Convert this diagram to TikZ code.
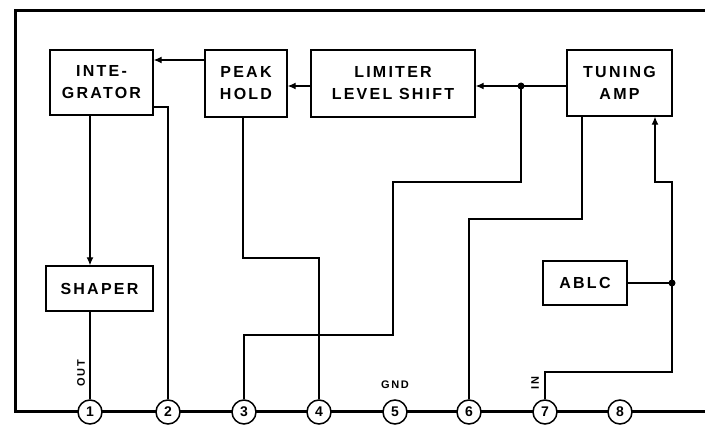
\documentclass[tikz,border=0pt]{standalone}
\usepackage{fontspec}
\setmainfont{Liberation Sans}
\usetikzlibrary{arrows.meta}
\newfontfamily\lab[LetterSpace=14]{Liberation Sans Bold}
\begin{document}
\begin{tikzpicture}[x=1pt,y=-1pt,
  blk/.style={draw,line width=1.4pt,inner sep=0pt,align=center,font=\lab\fontsize{16}{22}\selectfont},
  conn/.style={line width=1.2pt},
  arr/.style={conn,-{Latex[length=8pt,width=7pt]}},
  frame/.style={line width=3pt},
  pin/.style={draw,circle,line width=1.5pt,fill=white,minimum size=24pt,inner sep=0pt,font=\bfseries\fontsize{14}{14}\selectfont},
  dot/.style={circle,fill=black,inner sep=0pt,minimum size=7pt},
  tag/.style={font=\lab\fontsize{11}{11}\selectfont}]
\useasboundingbox (0,0) rectangle (705,428);
% frame
\draw[frame] (705,11) -- (15,11) -- (15,411) -- (705,411);
% pins
\foreach \n/\x in {1/90,2/168,3/244,4/319,5/395,6/469,7/545,8/620}
  \node[pin] (p\n) at (\x,412) {\n};
% blocks
\node[blk,minimum width=103pt,minimum height=65pt] (int) at (101.5,82.5) {INTE-\\GRATOR};
\node[blk,minimum width=82pt,minimum height=67pt] (peak) at (246,83.5) {PEAK\\HOLD};
\node[blk,minimum width=164pt,minimum height=67pt] (lim) at (393,83.5) {LIMITER\\LEVEL SHIFT};
\node[blk,minimum width=105pt,minimum height=66pt] (tun) at (619.5,83) {TUNING\\AMP};
\node[blk,minimum width=107pt,minimum height=45pt] (shp) at (99.5,288.5) {SHAPER};
\node[blk,minimum width=84pt,minimum height=44pt] (ablc) at (585,283) {ABLC};
% coordinates
\coordinate (a) at (0,60);
\coordinate (b) at (0,86);
\coordinate (j1) at (521,86);
\coordinate (j2) at (672,283);
\node[dot] at (j1) {};
\node[dot] at (j2) {};
% connectors
\draw[arr] (peak.west |- a) -- (int.east |- a);
\draw[arr] (lim.west |- b) -- (peak.east |- b);
\draw[arr] (tun.west |- b) -- (lim.east |- b);
\draw[arr] (int.south -| p1) -- (shp.north -| p1);
\draw[conn] (shp.south -| p1) -- (p1.north);
\draw[conn] (int.east |- 0,107) -- (168,107) -- (p2.north);
\draw[conn] (j1) -- (521,182) -- (393,182) -- (393,335) -- (244,335) -- (p3.north);
\draw[conn] (peak.south -| 243,0) -- (243,258) -- (319,258) -- (p4.north);
\draw[conn] (tun.south -| 582,0) -- (582,219) -- (469,219) -- (p6.north);
\draw[conn] (p7.north) -- (545,372) -- (672,372) -- (j2);
\draw[conn] (ablc.east) -- (j2);
\draw[arr] (j2) -- (672,182) -- (655,182) -- (tun.south -| 655,0);
% labels
\node[tag,rotate=90] at (81,373) {OUT};
\node[tag] at (395,385) {GND};
\node[tag,rotate=90] at (535,383) {IN};
\end{tikzpicture}
\end{document}
